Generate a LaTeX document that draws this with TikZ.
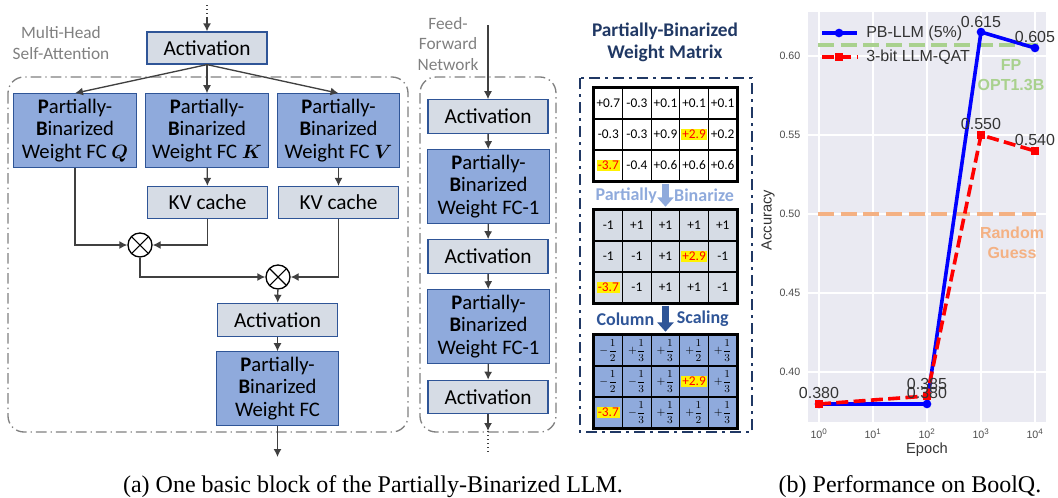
\documentclass[tikz,border=0pt]{standalone}
\usepackage{fontspec}
\usepackage{amsmath}
\setmainfont{Carlito}
\newfontfamily\plotfont{Liberation Sans}
\newfontfamily\capfont{Liberation Serif}
\usetikzlibrary{arrows.meta}

\definecolor{boxfill}{HTML}{D6DCE5}
\definecolor{pbfill}{HTML}{8FAADC}
\definecolor{boxline}{HTML}{2F5597}
\definecolor{arrowgray}{HTML}{404040}
\definecolor{navy}{HTML}{203864}
\definecolor{plotbg}{HTML}{EAEAF2}
\definecolor{fpgreen}{HTML}{A9D18E}
\definecolor{rgorange}{HTML}{F4B183}
\definecolor{ticktext}{HTML}{4D4D4D}

\newcommand{\hlval}[1]{{\fontsize{10}{12}\selectfont\setlength{\fboxsep}{0.8pt}\colorbox{yellow}{\textcolor{red}{#1}}}}
\newcommand{\wfrac}[2]{{\fontsize{8.5}{10}\selectfont$#1\dfrac{1}{#2}$}}

\tikzset{
  actbox/.style={draw=boxline, fill=boxfill, line width=0.9pt, minimum width=90pt, minimum height=24pt, inner sep=0pt, font=\fontsize{16}{18}\selectfont},
  pbbox/.style={draw=boxline, fill=pbfill, line width=0.9pt, minimum width=92pt, minimum height=55pt, inner sep=0pt, align=center, font=\fontsize{15.5}{17}\selectfont},
  conn/.style={draw=arrowgray, line width=1pt, -{Latex[length=6pt,width=6pt]}},
  mult/.style={circle, draw=black, line width=1pt, minimum size=18pt, inner sep=0pt,
    path picture={\draw[line width=0.8pt] (path picture bounding box.north west) -- (path picture bounding box.south east)
      (path picture bounding box.north east) -- (path picture bounding box.south west);}},
  blockline/.style={draw=gray, line width=1pt, rounded corners=12pt, dash pattern=on 8pt off 3pt on 1pt off 3pt},
  graylabel/.style={text=gray, align=center, font=\fontsize{13}{15.5}\selectfont},
  cell/.style={draw=black, line width=0.9pt, minimum width=21.45pt, minimum height=23.25pt, inner sep=0pt, font=\fontsize{10}{12}\selectfont},
  steplabel/.style={font=\bfseries\fontsize{13.5}{15}\selectfont, inner sep=0pt},
  ticklab/.style={text=ticktext, font=\plotfont\fontsize{8}{10}\selectfont},
  annot/.style={text=black!80, font=\plotfont\fontsize{12}{14}\selectfont, inner sep=0pt},
  pbmark/.style={circle, fill=blue, minimum size=6.5pt, inner sep=0pt},
  qamark/.style={rectangle, fill=red, minimum size=6.5pt, inner sep=0pt},
}

\begin{document}
\begin{tikzpicture}[x=0.75pt, y=-0.75pt]
\useasboundingbox (0,0) rectangle (1058,497);

% multi-head self-attention
\draw[blockline] (8,77) rectangle (408,432);
\node[graylabel] (mhsa) at (61,43) {Multi-Head\\Self-Attention};
\coordinate (in1) at (207,5);
\coordinate (in2) at (207,18);
\node[actbox] (act1) at (207,48) {Activation};
\node[pbbox] (q) at (75,130.5) {\textbf{P}artially-\\\textbf{B}inarized\\Weight FC $\boldsymbol{Q}$};
\node[pbbox] (k) at (207,130.5) {\textbf{P}artially-\\\textbf{B}inarized\\Weight FC $\boldsymbol{K}$};
\node[pbbox] (v) at (338.5,130.5) {\textbf{P}artially-\\\textbf{B}inarized\\Weight FC $\boldsymbol{V}$};
\node[actbox] (kvk) at (207.5,202.5) {KV cache};
\node[actbox] (kvv) at (338.5,202.5) {KV cache};
\node[mult] (mul1) at (140,245) {};
\node[mult] (mul2) at (278,277) {};
\node[actbox, minimum height=25pt] (act2) at (277.5,320) {Activation};
\node[pbbox] (fc) at (277.5,388.5) {\textbf{P}artially-\\\textbf{B}inarized\\Weight FC};
\coordinate (out) at (277.5,457);

\draw[dotted, line width=1pt, arrowgray] (in1) -- (in2);
\draw[conn] (in2) -- (act1);
\draw[conn] (act1.south) -- (q.north);
\draw[conn] (act1.south) -- (k.north);
\draw[conn] (act1.south) -- (v.north);
\draw[conn] (k) -- (kvk);
\draw[conn] (v) -- (kvv);
\draw[conn] (q.south) |- (mul1.west);
\draw[conn] (kvk.south) |- (mul1.east);
\draw[conn] (mul1.south) |- (mul2.west);
\draw[conn] (kvv.south) |- (mul2.east);
\draw[conn] (mul2) -- (act2);
\draw[conn] (act2) -- (fc);
\draw[conn] (fc) -- (out);

% feed-forward network
\draw[blockline] (420,77) rectangle (556,432);
\node[graylabel] (ffn) at (448,44) {Feed-\\Forward\\Network};
\coordinate (ffin) at (488,25);
\node[actbox, minimum height=25pt] (fa1) at (488,116.5) {Activation};
\node[pbbox] (ff1) at (488.5,186.5) {\textbf{P}artially-\\\textbf{B}inarized\\Weight FC-1};
\node[actbox, minimum height=25pt] (fa2) at (488,256.5) {Activation};
\node[pbbox] (ff2) at (488.5,326.5) {\textbf{P}artially-\\\textbf{B}inarized\\Weight FC-1};
\node[actbox, minimum height=25pt] (fa3) at (488,397) {Activation};
\coordinate (ffout1) at (488,431);
\coordinate (ffout2) at (488,453);
\draw[conn] (ffin) -- (fa1);
\draw[conn] (fa1) -- (ff1);
\draw[conn] (ff1) -- (fa2);
\draw[conn] (fa2) -- (ff2);
\draw[conn] (ff2) -- (fa3);
\draw[conn] (fa3) -- (ffout1);
\draw[dotted, line width=1pt, arrowgray] (ffout1) -- (ffout2);

% weight matrix
\node[text=navy, align=center, font=\bfseries\fontsize{14.5}{16.5}\selectfont] (wtitle) at (665,42) {Partially-Binarized\\Weight Matrix};
\draw[navy, line width=2pt, dash pattern=on 8pt off 4pt on 2pt off 4pt] (580,78) rectangle (752,432);
\foreach \vals [count=\row] in {{+0.7,-0.3,+0.1,+0.1,+0.1},{-0.3,-0.3,+0.9,\hlval{+2.9},+0.2},{\hlval{-3.7},-0.4,+0.6,+0.6,+0.6}}
  \foreach \v [count=\col] in \vals
    \node[cell, fill=white] (wa-\row-\col) at ({608.3+28.6*(\col-1)},{103.5+31*(\row-1)}) {\v};
\foreach \vals [count=\row] in {{-1,+1,+1,+1,+1},{-1,-1,+1,\hlval{+2.9},-1},{\hlval{-3.7},-1,+1,+1,-1}}
  \foreach \v [count=\col] in \vals
    \node[cell, fill=boxfill] (wb-\row-\col) at ({608.3+28.6*(\col-1)},{225.5+31*(\row-1)}) {\v};
\foreach \vals [count=\row] in {{\wfrac{-}{2},\wfrac{+}{3},\wfrac{+}{3},\wfrac{+}{2},\wfrac{+}{3}},{\wfrac{-}{2},\wfrac{-}{3},\wfrac{+}{3},\hlval{+2.9},\wfrac{+}{3}},{\hlval{-3.7},\wfrac{-}{3},\wfrac{+}{3},\wfrac{+}{2},\wfrac{+}{3}}}
  \foreach \v [count=\col] in \vals
    \node[cell, fill=pbfill] (wc-\row-\col) at ({608.3+28.6*(\col-1)},{350.5+31*(\row-1)}) {\v};
\draw[line width=1.5pt] (wa-1-1.north west) rectangle (wa-3-5.south east);
\draw[line width=1.5pt] (wb-1-1.north west) rectangle (wb-3-5.south east);
\draw[line width=1.5pt] (wc-1-1.north west) rectangle (wc-3-5.south east);
\draw[pbfill, line width=5pt, -{Triangle[width=12pt,length=7pt]}, shorten <=1.5pt, shorten >=2pt] (wa-3-3.south) -- (wb-1-3.north)
  node[midway, left=4pt, steplabel, text=pbfill] (pbin) {Partially}
  node[midway, right=4pt, steplabel, text=pbfill] (bin) {Binarize};
\draw[boxline, line width=5pt, -{Triangle[width=12pt,length=7pt]}, shorten <=1.5pt, shorten >=2pt] (wb-3-3.south) -- (wc-1-3.north)
  node[midway, left=6pt, steplabel, text=boxline] (colm) {Column}
  node[midway, right=6pt, steplabel, text=boxline] (scal) {Scaling};

% accuracy plot
\fill[plotbg] (808,12) rectangle (1046,422);
\foreach \gx in {819,873,927,981,1035} \draw[white, line width=0.8pt] (\gx,12) -- (\gx,422);
\foreach \gy in {56,135,214,293,372} \draw[white, line width=0.8pt] (808,\gy) -- (1046,\gy);
\foreach \gy/\lab [count=\k] in {56/0.60,135/0.55,214/0.50,293/0.45,372/0.40}
  \node[ticklab, anchor=east] (ytick\k) at (805,\gy) {\lab};
\foreach \gx/\e [count=\k] in {819/0,873/1,927/2,981/3,1035/4}
  \node[ticklab] (xtick\k) at (\gx,434) {10\textsuperscript{\e}};
\node[text=black!80, font=\plotfont\fontsize{11}{13}\selectfont] (xlab) at (927,450) {Epoch};
\node[text=black!80, font=\plotfont\fontsize{11}{13}\selectfont, rotate=90] (ylab) at (768,220) {Accuracy};

\draw[fpgreen, line width=3.5pt, dash pattern=on 12pt off 5pt] (818,45) -- (1040,45);
\draw[rgorange, line width=3.5pt, dash pattern=on 12pt off 5pt] (818,214) -- (1036,214);
\node[text=fpgreen, align=center, font=\plotfont\bfseries\fontsize{12}{15}\selectfont] (fp) at (1011,75) {FP\\OPT1.3B};
\node[text=rgorange, align=center, font=\plotfont\bfseries\fontsize{12}{15}\selectfont] (rg) at (1012,243) {Random\\Guess};

\coordinate (pb1) at (819,404);
\coordinate (pb2) at (927,404);
\coordinate (pb3) at (981,32);
\coordinate (pb4) at (1035,48);
\coordinate (qa1) at (819,404);
\coordinate (qa2) at (927,396);
\coordinate (qa3) at (981,135);
\coordinate (qa4) at (1035,151);
\draw[blue, line width=2.7pt, line join=round] (pb1) -- (pb2) -- (pb3) -- (pb4);
\foreach \p [count=\k] in {pb1,pb2,pb3,pb4} \node[pbmark] (pbm\k) at (\p) {};
\draw[red, line width=2.7pt, dash pattern=on 9pt off 4pt] (qa1) -- (qa2) -- (qa3) -- (qa4);
\foreach \p [count=\k] in {qa1,qa2,qa3,qa4} \node[qamark] (qam\k) at (\p) {};

\node[annot] (v380a) at (819,393) {0.380};
\node[annot] (v385) at (927,384) {0.385};
\node[annot] (v380b) at (927,393) {0.380};
\node[annot] (v615) at (981,22) {0.615};
\node[annot] (v605) at (1035,37) {0.605};
\node[annot] (v550) at (981,124) {0.550};
\node[annot] (v540) at (1035,140) {0.540};

% legend
\draw[blue, line width=2.7pt] (822,33) -- (857,33);
\node[pbmark] (legm1) at (839,33) {};
\node[annot, anchor=west] (leg1) at (866,33) {PB-LLM (5\%)};
\draw[red, line width=2.7pt, dash pattern=on 9pt off 4pt] (822,57) -- (857,57);
\node[qamark] (legm2) at (839,57) {};
\node[annot, anchor=west] (leg2) at (866,57) {3-bit LLM-QAT};

% captions
\node[font=\capfont\fontsize{18}{20}\selectfont] (capa) at (373,487) {(a) One basic block of the Partially-Binarized LLM.};
\node[font=\capfont\fontsize{18}{20}\selectfont] (capb) at (910,487) {(b) Performance on BoolQ.};
\end{tikzpicture}
\end{document}
